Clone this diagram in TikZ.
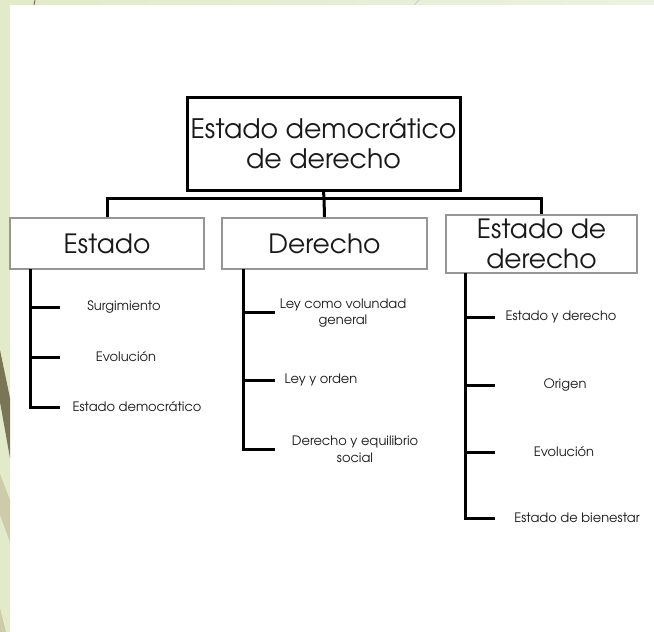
\documentclass[tikz,border=0pt]{standalone}
\usepackage{fontspec}
\setmainfont{texgyreadventor-regular.otf}
\definecolor{bggreen}{RGB}{226,234,202}
\definecolor{bglight}{RGB}{237,241,225}
\definecolor{darkolive}{RGB}{122,117,86}
\definecolor{tanolive}{RGB}{206,203,170}
\definecolor{boxgray}{RGB}{150,150,150}
\definecolor{txt}{RGB}{25,25,25}
\begin{document}
\begin{tikzpicture}[x=1pt,y=-1pt,
  topbox/.style={draw=black, line width=3pt, fill=white, align=center, inner sep=0pt,
    text=txt, font=\fontsize{26.8}{30}\selectfont},
  midbox/.style={draw=boxgray, line width=1.6pt, fill=white, align=center, inner sep=0pt,
    text=txt, font=\fontsize{26.5}{30}\selectfont},
  leaf/.style={align=center, inner sep=0pt, text=txt, font=\fontsize{13}{16.5}\selectfont},
  conn/.style={line width=3pt, black},
]
% background
\useasboundingbox (0,0) rectangle (654,632);
\shade[left color=bggreen, right color=bglight] (0,0) rectangle (654,5);
\fill[bggreen] (0,0) rectangle (10,632);
\fill[white] (10,5) rectangle (654,632);
\draw[darkolive, line width=1pt] (35,0) -- (34,5);
\draw[gray!40, line width=1pt] (419,0) -- (414,5);
\fill[darkolive] (0,350) -- (10,398) -- (10,458) -- (0,402) -- cycle;
\fill[tanolive] (0,474) -- (10,500) -- (10,542) -- (0,515) -- cycle;
\fill[tanolive] (0,608) -- (6,632) -- (0,632) -- cycle;

% top node
\node[topbox, minimum width=273pt, minimum height=93pt] (top) at (323.5,143.5)
  {Estado democrático\\de derecho};

% second level
\node[midbox, minimum width=194pt, minimum height=51pt] (s1) at (107,243.5) {Estado};
\node[midbox, minimum width=205pt, minimum height=51pt] (s2) at (324.5,243.5) {Derecho};
\node[midbox, minimum width=191pt, minimum height=58pt] (s3) at (541.5,244) {Estado de\\derecho};

\coordinate (bar) at (324,198);
\draw[conn] (top.south) -- (bar);
\draw[conn] (s1.north) -- (s1.north |- bar) -- (s3.north |- bar) -- (s3.north);
\draw[conn] (bar) -- (s2.north);

% leaves of Estado
\node[leaf] (a1) at (124,307) {Surgimiento};
\node[leaf] (a2) at (126,357) {Evolución};
\node[leaf] (a3) at (137,407) {Estado democrático};
\coordinate (va) at (30,269);
\coordinate (ea1) at (60,307);
\coordinate (ea2) at (60,357);
\coordinate (ea3) at (60,407);
\draw[conn] (va) |- (ea3);
\draw[conn] (va |- ea1) -- (ea1);
\draw[conn] (va |- ea2) -- (ea2);

% leaves of Derecho
\node[leaf] (b1) at (343,313) {Ley como volundad\\general};
\node[leaf] (b2) at (321,380) {Ley y orden};
\node[leaf] (b3) at (355,449.5) {Derecho y equilibrio\\social};
\coordinate (vb) at (243,269);
\coordinate (eb1) at (275,312);
\coordinate (eb2) at (275,380);
\coordinate (eb3) at (275,449);
\draw[conn] (vb) |- (eb3);
\draw[conn] (vb |- eb1) -- (eb1);
\draw[conn] (vb |- eb2) -- (eb2);

% leaves of Estado de derecho
\node[leaf] (c1) at (561,317) {Estado y derecho};
\node[leaf] (c2) at (565,385) {Origen};
\node[leaf] (c3) at (564,452) {Evolución};
\node[leaf] (c4) at (577,518) {Estado de bienestar};
\coordinate (vc) at (465,273);
\coordinate (ec1) at (495,317);
\coordinate (ec2) at (495,385);
\coordinate (ec3) at (495,452);
\coordinate (ec4) at (495,518);
\draw[conn] (vc) |- (ec4);
\draw[conn] (vc |- ec1) -- (ec1);
\draw[conn] (vc |- ec2) -- (ec2);
\draw[conn] (vc |- ec3) -- (ec3);
\end{tikzpicture}
\end{document}
